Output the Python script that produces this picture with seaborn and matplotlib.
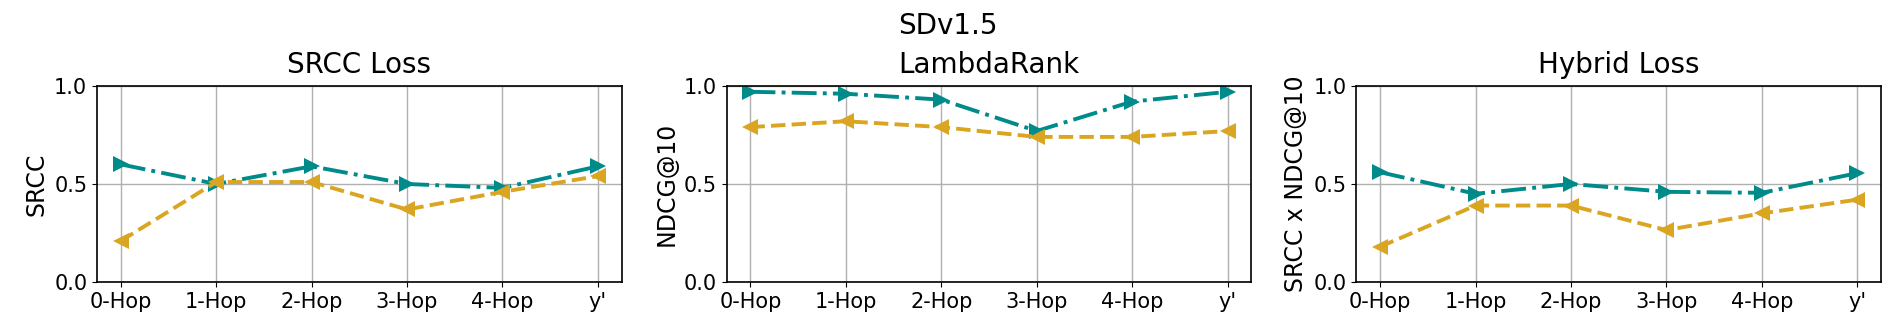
import numpy as np
import pandas as pd
import matplotlib
matplotlib.use("Agg")
import matplotlib.pyplot as plt
import seaborn as sns

hops = ["0-Hop", "1-Hop", "2-Hop", "3-Hop", "4-Hop", "y'"]
titles = ["SRCC Loss", "LambdaRank", "Hybrid Loss"]
ylabels = ["SRCC", "NDCG@10", "SRCC x NDCG@10"]

srcc_a   = [0.60, 0.50, 0.59, 0.50, 0.48, 0.59]
srcc_b   = [0.21, 0.51, 0.51, 0.37, 0.46, 0.54]
lambda_a = [0.97, 0.96, 0.93, 0.77, 0.92, 0.97]
lambda_b = [0.79, 0.82, 0.79, 0.74, 0.74, 0.77]
hybrid_a = [0.56, 0.45, 0.50, 0.46, 0.455, 0.555]
hybrid_b = [0.18, 0.39, 0.39, 0.265, 0.35, 0.42]

series = [(srcc_a, srcc_b), (lambda_a, lambda_b), (hybrid_a, hybrid_b)]

sns.set_style("ticks")
plt.rcParams.update({"font.family": ["DejaVu Sans"], "font.size": 15,
                     "text.color": "black", "axes.labelcolor": "black",
                     "xtick.color": "black", "ytick.color": "black",
                     "axes.edgecolor": "black",
                     "xtick.labelsize": 15, "ytick.labelsize": 15,
                     "axes.labelsize": 17, "axes.titlesize": 20})

PAL = {"a": "#008B8B", "b": "#DAA520"}
fig, axes = plt.subplots(1, 3, figsize=(18.96, 3.33), dpi=100)
fig.subplots_adjust(left=97/1896, right=1881/1896, top=0.742, bottom=0.153, wspace=0.2)
for ax, title, ylab, (va, vb) in zip(axes, titles, ylabels, series):
    df = pd.DataFrame({"hop": hops * 2, "val": va + vb,
                       "run": ["a"] * len(hops) + ["b"] * len(hops)})
    sns.lineplot(data=df, x="hop", y="val", hue="run", style="run",
                 palette=PAL, markers={"a": ">", "b": "<"},
                 dashes={"a": (6.4, 1.6, 1, 1.6), "b": (3.7, 1.6)},
                 lw=2.8, markersize=12, markeredgewidth=0, legend=False, ax=ax)
    ax.set_ylim(0, 1)
    ax.set_yticks([0, 0.5, 1.0])
    ax.grid(True, color="#b0b0b0", lw=1)
    ax.set_axisbelow(True)
    ax.set_title(title, pad=9)
    ax.set_xlabel("")
    ax.set_ylabel(ylab)
    for s in ax.spines.values():
        s.set_linewidth(1.2)

fig.suptitle("SDv1.5", fontsize=20, y=0.922, va="center")
fig.savefig("out.png", dpi=100)
